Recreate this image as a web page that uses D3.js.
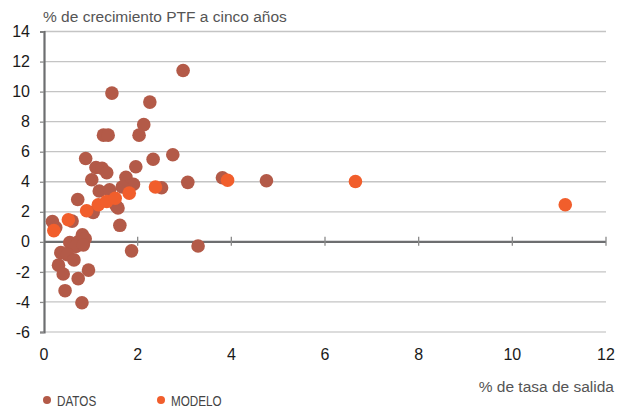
<!DOCTYPE html>
<html>
<head>
	<meta charset="UTF-8">
	<title>PTF vs tasa de salida</title>
	<style>
		body { margin: 0; background: #fff; }
		.axis text { font-family: "Liberation Sans", Arial, sans-serif; font-size: 16px; fill: #1a1a1a; }
	</style>
</head>
<body>
	<div class="chart"></div>

	<script src="https://cdnjs.cloudflare.com/ajax/libs/d3/7.8.5/d3.min.js"></script>
	<script>

		// % de tasa de salida (x), % de crecimiento PTF a cinco años (y)
		var datos = [
			[2.97, 11.4], [1.45, 9.9], [2.26, 9.3], [2.13, 7.8], [2.03, 7.1],
			[1.27, 7.1], [1.37, 7.1], [0.89, 5.55], [2.75, 5.8], [2.33, 5.5],
			[1.96, 5.0], [1.11, 4.95], [1.24, 4.9], [1.34, 4.6], [1.02, 4.13],
			[1.75, 4.3], [3.07, 3.96], [3.81, 4.27], [4.75, 4.07], [2.51, 3.6],
			[1.91, 3.83], [1.67, 3.65], [1.18, 3.38], [1.40, 3.47], [0.72, 2.82],
			[1.54, 2.4], [1.58, 2.25], [1.05, 1.96], [1.62, 1.1], [0.60, 1.38],
			[0.18, 1.35], [0.25, 0.95], [0.82, 0.47], [0.88, 0.2], [0.55, -0.05],
			[0.73, 0.0], [0.68, -0.3], [0.84, -0.2], [0.36, -0.72], [0.50, -0.85],
			[0.64, -1.2], [0.31, -1.55], [0.41, -2.14], [0.95, -1.88], [0.73, -2.45],
			[0.45, -3.25], [0.81, -4.05], [1.87, -0.6], [3.29, -0.28]
		];

		var modelo = [
			[0.21, 0.75], [0.52, 1.47], [0.91, 2.07], [1.16, 2.47], [1.34, 2.69],
			[1.52, 2.9], [1.82, 3.24], [2.38, 3.65], [3.92, 4.1], [6.65, 4.02],
			[11.13, 2.47]
		];

		var xTicks = [0, 2, 4, 6, 8, 10, 12];
		var yTicks = [-6, -4, -2, 0, 2, 4, 6, 8, 10, 12, 14];

		var series = [
			{ name: "DATOS", values: datos, color: "#b35a48" },
			{ name: "MODELO", values: modelo, color: "#f15e2c" }
		];

		var w = 626, h = 409;
		var mLeft = 44, mRight = 606, mTop = 31.5, mBottom = 332;

		var svg = d3.select("div.chart").append("svg")
			.attr("width", w)
			.attr("height", h);

		var x = d3.scaleLinear().domain([0, 12]).range([mLeft, mRight]);
		var y = d3.scaleLinear().domain([-6, 14]).range([mBottom, mTop]);

		/* gridlines */
		svg.append("g")
			.selectAll("line")
			.data(yTicks.filter(function(d){ return d !== 0; }))
			.enter().append("line")
			.attr("x1", mLeft).attr("x2", mRight)
			.attr("y1", function(d){ return y(d); })
			.attr("y2", function(d){ return y(d); })
			.attr("stroke", function(d){ return d === -6 ? "#dcdcdc" : "#c4c4c4"; })
			.attr("stroke-width", function(d){ return d === -6 ? 2 : 1.3; });

		/* y axis - plain hyphen for negatives like the original */
		var yAxis = d3.axisLeft(y)
			.tickValues(yTicks)
			.tickFormat(function(d){ return String(d); })
			.tickSize(4)
			.tickPadding(10);
		var gy = svg.append("g")
			.attr("class", "axis")
			.attr("transform", "translate(" + mLeft + ",0)")
			.call(yAxis);
		gy.select(".domain").attr("stroke", "#6d6e70").attr("stroke-width", 2.2);
		gy.selectAll(".tick line").attr("stroke", "#8a8a8a").attr("stroke-width", 1.3);

		/* x axis line at zero, with ticks crossing it */
		svg.append("line")
			.attr("x1", mLeft).attr("x2", mRight)
			.attr("y1", y(0)).attr("y2", y(0))
			.attr("stroke", "#6d6e70")
			.attr("stroke-width", 2.2);
		svg.append("g")
			.selectAll("line")
			.data(xTicks.filter(function(d){ return d > 0; }))
			.enter().append("line")
			.attr("x1", function(d){ return x(d); })
			.attr("x2", function(d){ return x(d); })
			.attr("y1", y(0) - 5).attr("y2", y(0) + 4)
			.attr("stroke", "#8a8a8a")
			.attr("stroke-width", 1.3);

		/* x tick labels at the bottom */
		svg.append("g")
			.attr("class", "axis")
			.selectAll("text")
			.data(xTicks)
			.enter().append("text")
			.attr("x", function(d){ return x(d); })
			.attr("y", 360)
			.attr("text-anchor", "middle")
			.text(function(d){ return d; });

		/* points */
		series.forEach(function(s){
			svg.append("g")
				.selectAll("circle")
				.data(s.values)
				.enter().append("circle")
				.attr("cx", function(d){ return x(d[0]); })
				.attr("cy", function(d){ return y(d[1]); })
				.attr("r", 6.8)
				.attr("fill", s.color);
		});

		/* titles */
		svg.append("text")
			.attr("x", 43).attr("y", 22)
			.attr("font-family", "Liberation Sans, Arial, sans-serif")
			.attr("font-size", "15.5px")
			.attr("fill", "#555")
			.text("% de crecimiento PTF a cinco años");

		svg.append("text")
			.attr("x", 614).attr("y", 392)
			.attr("text-anchor", "end")
			.attr("font-family", "Liberation Sans, Arial, sans-serif")
			.attr("font-size", "15.5px")
			.attr("fill", "#555")
			.text("% de tasa de salida");

		/* legend (condensed text, squeezed horizontally) */
		var legend = svg.append("g")
			.selectAll("g")
			.data(series)
			.enter().append("g")
			.attr("transform", function(d, i){ return "translate(" + (47 + i * 114) + ",400)"; });
		legend.append("circle")
			.attr("r", 4)
			.attr("fill", function(d){ return d.color; });
		legend.append("text")
			.attr("transform", "translate(10,5.5) scale(0.78,1)")
			.attr("font-family", "Liberation Sans, Arial, sans-serif")
			.attr("font-size", "15px")
			.attr("fill", "#444")
			.text(function(d){ return d.name; });

	</script>
</body>
</html>
